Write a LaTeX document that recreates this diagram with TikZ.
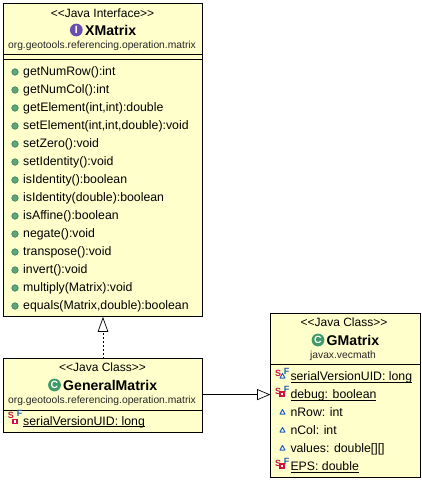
\documentclass[tikz,border=0pt]{standalone}
\usepackage{fontspec}
\setmainfont{Liberation Sans}
\usetikzlibrary{arrows.meta}
\definecolor{boxfill}{HTML}{FFFFCC}
\definecolor{pubgreen}{HTML}{5FA67A}
\definecolor{pubedge}{HTML}{2F7F55}
\definecolor{ifacepurple}{HTML}{6A4FB0}
\definecolor{classgreen}{HTML}{3F9A68}
\definecolor{statred}{HTML}{D01040}
\definecolor{finblue}{HTML}{2060B0}
\tikzset{
  x=1pt,y=-1pt,
  umlbox/.style={draw=black,fill=boxfill,line width=0.9pt,outer sep=0pt},
  seprule/.style={draw=black,line width=0.8pt},
  stereo/.style={font=\fontsize{12}{14}\selectfont,inner sep=0pt,text=black},
  titletext/.style={font=\fontsize{14.1}{16}\selectfont\bfseries,inner sep=0pt,text=black},
  pkg/.style={font=\fontsize{10.3}{12}\selectfont,inner sep=0pt,text=black!85},
  member/.style={font=\fontsize{12.3}{14}\selectfont,anchor=base west,inner sep=0pt,text=black},
  pubdot/.style={circle,draw=pubedge,fill=pubgreen,line width=0.6pt,minimum size=6.5pt,inner sep=0pt},
  tricon/.style={draw=finblue,fill=white,line width=1pt,line join=round},
  redsq/.style={draw=statred,fill=white,line width=1.1pt},
  sflet/.style={font=\fontsize{9}{10}\selectfont\bfseries,inner sep=0pt},
  inherit/.style={draw=black,line width=0.7pt,-{Triangle[open,length=13pt,width=11pt,fill=white]}},
  realize/.style={draw=black,line width=0.7pt,dash pattern=on 2pt off 2pt,-{Triangle[open,length=15pt,width=10.5pt,fill=white,line width=0.7pt]}},
  classicon/.style={circle,fill=classgreen,minimum size=12.8pt,inner sep=0pt,font=\fontsize{10.5}{11}\selectfont\bfseries,text=white},
  ifaceicon/.style={circle,fill=ifacepurple,minimum size=12.8pt,inner sep=0pt,font=\fontsize{10.5}{11}\selectfont\bfseries,text=white}
}
\newcommand{\sfmark}[2]{%
  \node[sflet,text=statred] at (#1-2,#2-6) {S};
  \node[sflet,text=finblue] at (#1+6.5,#2-7.5) {F};
}
\begin{document}
\begin{tikzpicture}
\useasboundingbox (0,0) rectangle (422,481);
\fill[white] (0,0) rectangle (422,481);

% XMatrix
\node[umlbox,minimum width=199pt,minimum height=313pt,inner sep=0pt,anchor=north west] (xm) at (3.4,3.4) {};
\draw[seprule] (3.4,54.4) -- (202.4,54.4);
\draw[seprule] (3.4,59.4) -- (202.4,59.4);
\node[stereo] (xmst) at (102.5,13) {<{}<Java Interface>{}>};
\node[ifaceicon] (xmic) at (76.3,30) {I};
\node[titletext,anchor=west] (xmti) at (85,30.5) {XMatrix};
\node[pkg] (xmpk) at (102,46) {org.geotools.referencing.operation.matrix};
\foreach \i/\t in {0/{getNumRow():int},1/{getNumCol():int},2/{getElement(int,int):double},3/{setElement(int,int,double):void},4/{setZero():void},5/{setIdentity():void},6/{isIdentity():boolean},7/{isIdentity(double):boolean},8/{isAffine():boolean},9/{negate():void},10/{transpose():void},11/{invert():void},12/{multiply(Matrix):void},13/{equals(Matrix,double):boolean}}{
  \node[pubdot] (xd\i) at (15,72+18*\i) {};
  \node[member] (xt\i) at (23,75.8+18*\i) {\t};
}

% GeneralMatrix
\node[umlbox,minimum width=199pt,minimum height=73.6pt,inner sep=0pt,anchor=north west] (gen) at (3.4,358.7) {};
\draw[seprule] (3.4,410) -- (202.4,410);
\node[stereo] (genst) at (102.5,367.5) {<{}<Java Class>{}>};
\node[classicon] (genic) at (54.5,385) {C};
\node[titletext,anchor=west] (genti) at (63,385.5) {GeneralMatrix};
\node[pkg] (genpk) at (102,401) {org.geotools.referencing.operation.matrix};
\node[member] (gen0) at (23,425) {\underline{\smash{serialVersionUID: long}}};
\sfmark{13}{421}
\node[redsq,minimum size=4pt,inner sep=0pt] (gens) at (15,421.5) {};

% GMatrix
\node[umlbox,minimum width=150pt,minimum height=163.3pt,inner sep=0pt,anchor=north west] (gm) at (270.2,313.8) {};
\draw[seprule] (270.2,364.4) -- (420.2,364.4);
\node[stereo] (gmst) at (344,322.5) {<{}<Java Class>{}>};
\node[classicon] (gmic) at (318,340) {C};
\node[titletext,anchor=west] (gmti) at (326.5,340.5) {GMatrix};
\node[pkg] (gmpk) at (343,356) {javax.vecmath};
\foreach \i/\t in {0/{serialVersionUID: long},1/{debug: boolean},5/{EPS: double}}{
  \node[member] (gt\i) at (290.3,380.8+18*\i) {\underline{\smash{\t}}};
  \sfmark{280}{379+18*\i}
}
\foreach \i/\t in {2/{nRow: int},3/{nCol: int},4/{values: double[][]}}{
  \node[member] (gt\i) at (290.3,380.8+18*\i) {\t};
}
\foreach \i in {0,2,3,4}{
  \draw[tricon] (280,378+18*\i) -- (282.5,373.5+18*\i) -- (285,378+18*\i) -- cycle;
}
\foreach \i in {1,5}{
  \node[redsq,minimum size=4pt,inner sep=0pt] (gs\i) at (282,376+18*\i) {};
}

% connectors
\coordinate (genR) at (gen.east |- 0,394.6);
\coordinate (gmL) at (gm.west |- 0,394.6);
\draw[inherit] (genR) -- (gmL);
\coordinate (genT) at (103,358.5);
\coordinate (xmB) at (103,316.8);
\draw[realize] (genT) -- (xmB);
\end{tikzpicture}
\end{document}
